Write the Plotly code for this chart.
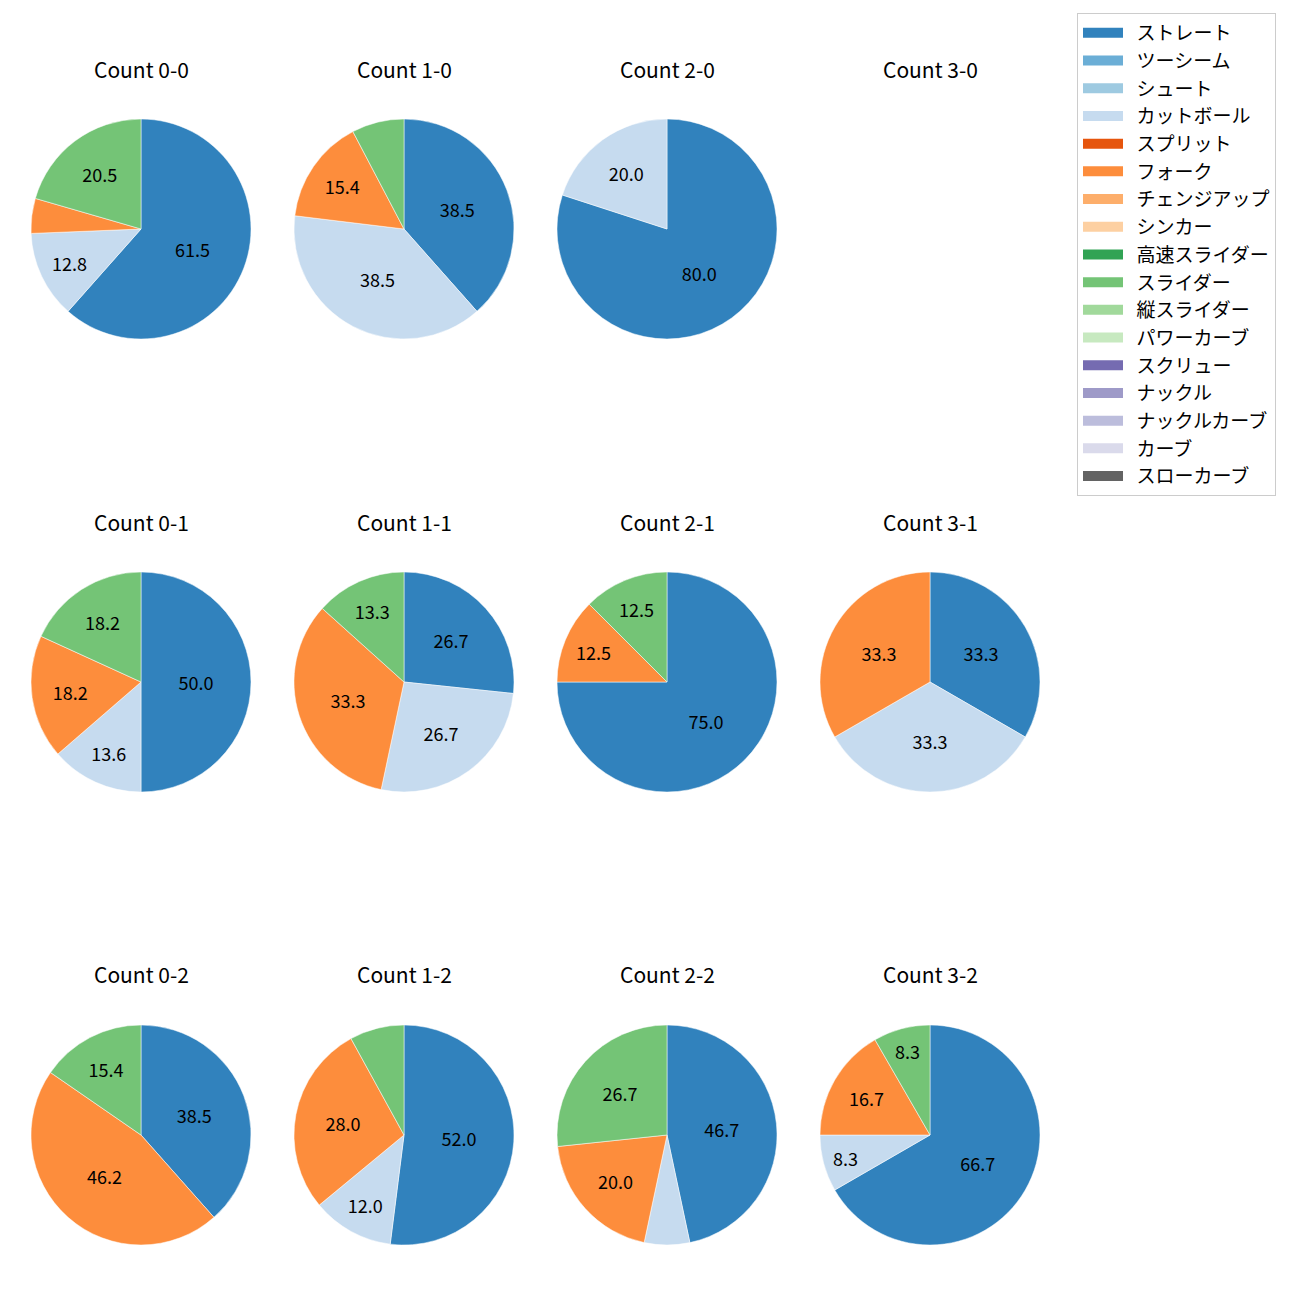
import plotly.graph_objects as go

pitch_types = ["ストレート", "ツーシーム", "シュート", "カットボール", "スプリット", "フォーク",
               "チェンジアップ", "シンカー", "高速スライダー", "スライダー", "縦スライダー",
               "パワーカーブ", "スクリュー", "ナックル", "ナックルカーブ", "カーブ", "スローカーブ"]
colors = ["#3182bd", "#6baed6", "#9ecae1", "#c6dbef", "#e6550d", "#fd8d3c", "#fdae6b", "#fdd0a2",
          "#31a354", "#74c476", "#a1d99b", "#c7e9c0", "#756bb1", "#9e9ac8", "#bcbddc", "#dadaeb",
          "#636363"]

counts = ["0-0", "1-0", "2-0", "3-0", "0-1", "1-1", "2-1", "3-1", "0-2", "1-2", "2-2", "3-2"]
# pitch counts per ball-strike count: ストレート, カットボール, フォーク, スライダー
straight = [24, 5, 4, 0, 11, 4, 6, 1, 5, 13, 7, 8]
cutter = [5, 5, 1, 0, 3, 4, 0, 1, 0, 3, 1, 1]
fork = [2, 2, 0, 0, 4, 5, 1, 1, 6, 7, 3, 2]
slider = [8, 1, 0, 0, 4, 2, 1, 0, 2, 2, 4, 1]

used = ["ストレート", "カットボール", "フォーク", "スライダー"]
cmap = dict(zip(pitch_types, colors))

W = H = 1300
OFF = 8  # page body margin
col_cx = [141, 404, 667, 930]
row_cy = [229, 682, 1135]
R = 110
title_y = [69, 522, 974]
FONT = "Noto Sans CJK JP"

fig = go.Figure()
for i, c in enumerate(counts):
    vals = [straight[i], cutter[i], fork[i], slider[i]]
    tot = sum(vals)
    labs = [u for u, v in zip(used, vals) if v > 0]
    vs = [v for v in vals if v > 0]
    r, col = divmod(i, 4)
    cx, cy = col_cx[col] - OFF, row_cy[r] - OFF
    if vs:
        texts = []
        for v in vs:
            p = 100.0 * v / tot
            texts.append(f"{p:.1f}" if p > 8.05 else "")
        fig.add_trace(go.Pie(
            labels=labs, values=vs, sort=False, direction="clockwise", rotation=0,
            marker=dict(colors=[cmap[l] for l in labs], line=dict(color="white", width=0.5)),
            text=texts, textinfo="text", textposition="inside",
            insidetextorientation="horizontal",
            textfont=dict(color="black", size=18, family=FONT),
            domain=dict(x=[(cx - R) / W, (cx + R) / W], y=[1 - (cy + R) / H, 1 - (cy - R) / H]),
            showlegend=False, hoverinfo="label+percent",
        ))
    fig.add_annotation(text=f"Count {c}", x=cx / W, y=1 - (title_y[r] - OFF) / H,
                       xref="paper", yref="paper",
                       showarrow=False, xanchor="center", yanchor="middle",
                       font=dict(size=21, color="black", family=FONT))

for p, col in zip(pitch_types, colors):
    fig.add_trace(go.Scatter(x=[None], y=[None], mode="lines", name="\u00a0\u00a0" + p,
                             legendgroup=p,
                             line=dict(color=col, width=13), showlegend=True, hoverinfo="skip"))

fig.update_layout(
    width=W, height=H, margin=dict(l=0, r=0, t=0, b=0),
    paper_bgcolor="white", plot_bgcolor="white",
    xaxis=dict(visible=False), yaxis=dict(visible=False),
    font=dict(family=FONT, size=14, color="black"),
    legend=dict(x=(1077 - OFF) / W, y=1 - (13 - OFF) / H, xanchor="left", yanchor="top",
                bordercolor="#cccccc", borderwidth=1, bgcolor="white",
                itemwidth=40,
                tracegroupgap=0, font=dict(size=19, family=FONT)),
)
fig.write_html("out.html")
